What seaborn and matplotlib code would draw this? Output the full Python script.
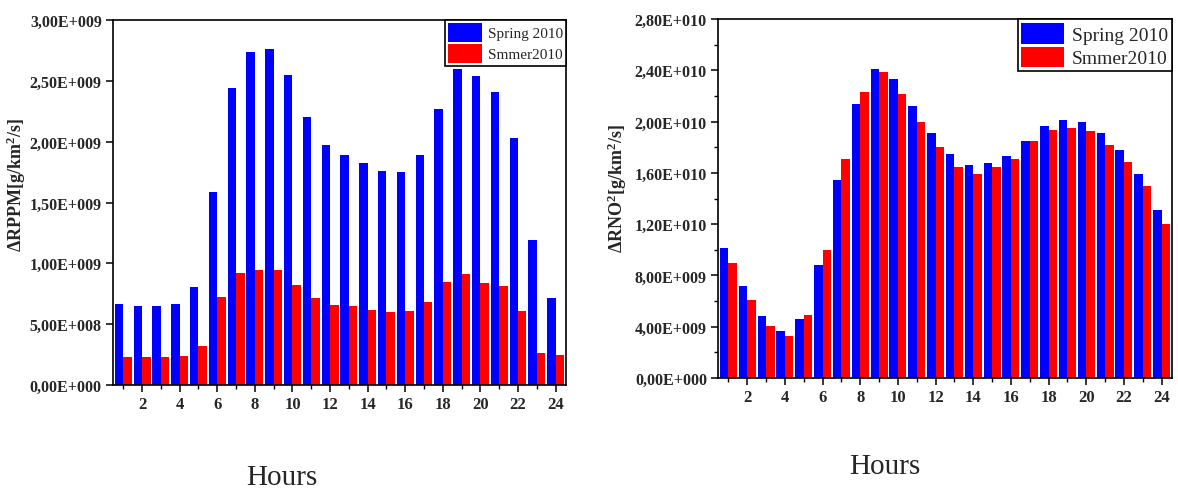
import math
import numpy as np
import pandas as pd
import matplotlib
matplotlib.use("Agg")
import matplotlib.pyplot as plt
from matplotlib.ticker import FuncFormatter, MultipleLocator, FixedLocator
import seaborn as sns

# Hourly emission differences, 2010
hours = list(range(1, 25))
seasons = ["Spring 2010", "Smmer2010"]

rppm_spring = [0.664e9, 0.650e9, 0.650e9, 0.664e9, 0.803e9, 1.590e9, 2.445e9, 2.740e9,
               2.765e9, 2.550e9, 2.205e9, 1.970e9, 1.893e9, 1.825e9, 1.757e9, 1.751e9,
               1.888e9, 2.270e9, 2.596e9, 2.544e9, 2.407e9, 2.027e9, 1.189e9, 0.713e9]
rppm_summer = [0.232e9, 0.232e9, 0.232e9, 0.240e9, 0.320e9, 0.724e9, 0.921e9, 0.945e9,
               0.943e9, 0.822e9, 0.713e9, 0.658e9, 0.653e9, 0.617e9, 0.604e9, 0.609e9,
               0.680e9, 0.847e9, 0.913e9, 0.836e9, 0.811e9, 0.607e9, 0.265e9, 0.243e9]

rno2_spring = [10.11e9, 7.17e9, 4.87e9, 3.70e9, 4.61e9, 8.79e9, 15.46e9, 21.35e9,
               24.11e9, 23.33e9, 21.22e9, 19.13e9, 17.44e9, 16.58e9, 16.74e9, 17.28e9,
               18.48e9, 19.63e9, 20.13e9, 19.99e9, 19.13e9, 17.80e9, 15.88e9, 13.09e9]
rno2_summer = [8.99e9, 6.05e9, 4.07e9, 3.28e9, 4.93e9, 9.96e9, 17.05e9, 22.29e9,
               23.90e9, 22.16e9, 19.97e9, 18.04e9, 16.45e9, 15.95e9, 16.45e9, 17.05e9,
               18.46e9, 19.32e9, 19.50e9, 19.24e9, 18.17e9, 16.87e9, 14.99e9, 11.99e9]

x_ticklabels = [str(h) for h in range(2, 25, 2)]

palette = {"Spring 2010": "#0000FF", "Smmer2010": "#FF0000"}


def long_frame(spring, summer):
    return pd.DataFrame({
        "Hour": hours * 2,
        "Season": [seasons[0]] * 24 + [seasons[1]] * 24,
        "Value": list(spring) + list(summer),
    })


def sci_comma(v, pos):
    if v <= 0:
        return "0,00E+000"
    e = int(math.floor(math.log10(v) + 1e-9))
    m = v / 10 ** e
    return f"{m:.2f}".replace(".", ",") + f"E+{e:03d}"


sns.set_theme(style="ticks")
plt.rcParams["font.family"] = ["Liberation Serif", "DejaVu Serif"]
plt.rcParams["mathtext.fontset"] = "custom"
plt.rcParams["mathtext.rm"] = "Liberation Serif:bold"
plt.rcParams["mathtext.it"] = "Liberation Serif:bold"
plt.rcParams["mathtext.bf"] = "Liberation Serif:bold"

fig = plt.figure(figsize=(11.78, 4.89), dpi=100)
ax1 = fig.add_axes([0.0959, 0.2106, 0.3845, 0.7464])
ax2 = fig.add_axes([0.6095, 0.225, 0.3854, 0.734])


def draw(ax, spring, summer, ylim, major, minor, ylabel, label_xy,
         legend_size, handle_len, handle_h):
    df = long_frame(spring, summer)
    sns.barplot(data=df, x="Hour", y="Value", hue="Season", hue_order=seasons,
                palette=palette, width=0.9, saturation=1, errorbar=None,
                linewidth=0, ax=ax)
    ax.set_xlim(-0.55, 23.55)
    ax.set_ylim(*ylim)
    ax.xaxis.set_major_locator(FixedLocator(list(range(1, 24, 2))))
    ax.set_xticklabels(x_ticklabels)
    ax.xaxis.set_minor_locator(FixedLocator(list(range(0, 24, 2))))
    ax.yaxis.set_major_locator(MultipleLocator(major))
    if minor:
        ax.yaxis.set_minor_locator(MultipleLocator(minor))
    ax.yaxis.set_major_formatter(FuncFormatter(sci_comma))
    ax.tick_params(axis="both", which="major", direction="out", length=5, width=1.1,
                   color="black", pad=3)
    ax.tick_params(axis="y", which="major", labelsize=11.5)
    ax.tick_params(axis="x", which="major", labelsize=12)
    ax.tick_params(axis="both", which="minor", direction="out", length=3, width=1.0,
                   color="black")
    for lab in ax.get_xticklabels() + ax.get_yticklabels():
        lab.set_fontweight("bold")
    for sp in ax.spines.values():
        sp.set_visible(True)
        sp.set_color("black")
        sp.set_linewidth(1.2)
    ax.set_xlabel("")
    ax.set_ylabel(ylabel, fontsize=13, fontweight="bold")
    ax.yaxis.set_label_coords(*label_xy)
    leg = ax.legend(loc="upper right", frameon=True, fancybox=False, borderaxespad=0,
                    fontsize=legend_size, handlelength=handle_len, handleheight=handle_h,
                    borderpad=0.2, labelspacing=0.15, handletextpad=0.4)
    leg.get_frame().set_edgecolor("black")
    leg.get_frame().set_linewidth(1.2)
    leg.get_frame().set_alpha(1)


draw(ax1, rppm_spring, rppm_summer, (0, 3.0e9), 5e8, None,
     r"ΔRPPM[g/km$^2$/s]", (-0.188, 0.55), 11, 2.2, 1.5)
draw(ax2, rno2_spring, rno2_summer, (0, 2.8e10), 4e9, 2e9,
     r"ΔRNO$^2$[g/km$^2$/s]", (-0.196, 0.53), 14, 2.2, 1.25)

fig.text(282 / 1178, 1 - 478 / 489, "Hours", ha="center", va="center", fontsize=21)
fig.text(885 / 1178, 1 - 467 / 489, "Hours", ha="center", va="center", fontsize=21)

fig.savefig("out.png", dpi=100)
